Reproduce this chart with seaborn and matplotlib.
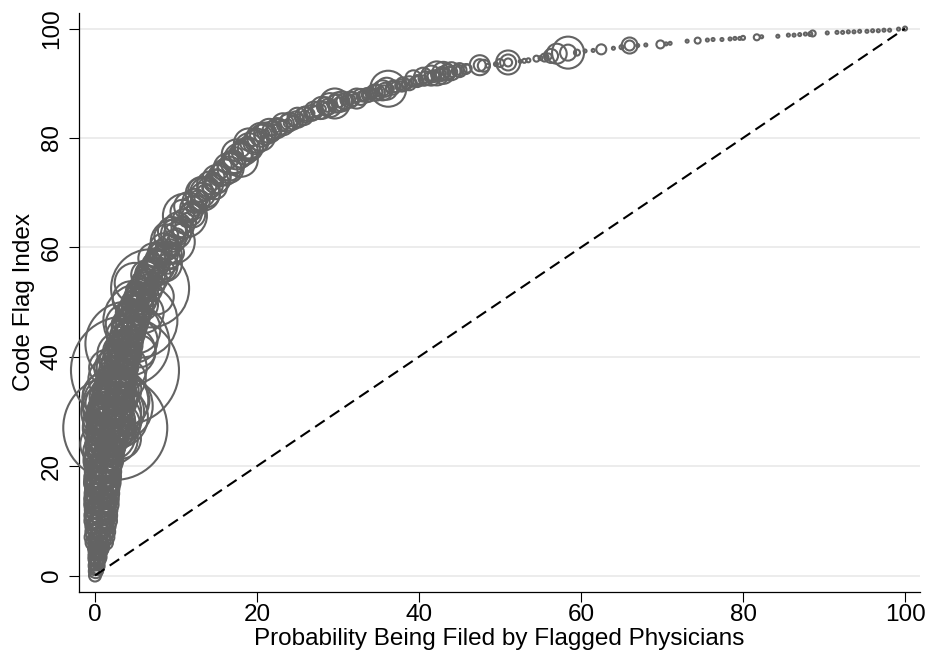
import matplotlib
matplotlib.use("Agg")
import matplotlib.pyplot as plt
import pandas as pd
import seaborn as sns

# ---- data: (probability filed by flagged physicians, code flag index, radius-like weight) ----
tip_x = [0.0, 0.1, 0.2, 0.1, 0.3, 0.2, 0.5, 0.3, 0.6, 0.4, 0.7, 0.5, 0.8, 0.6, 0.9, 0.5, 1.0, 0.7, 0.9, 0.6,
         1.1, 0.8, 1.0, 0.7, 1.2, 0.9, 1.4, 0.3, 1.5, 0.4]
tip_y = [0.0, 0.8, 1.8, 2.8, 3.5, 4.5, 5.2, 6.0, 6.8, 7.5, 8.3, 9.0, 9.8, 10.5, 11.3, 12.0, 12.8, 13.5, 14.3, 15.0,
         15.8, 16.5, 17.3, 18.0, 18.8, 19.5, 14.0, 14.0, 18.0, 17.0]
tip_r = [6, 7, 8, 7, 9, 8, 10, 9, 11, 12, 10, 13, 11, 14, 12, 13, 11, 15, 12, 14,
         13, 15, 12, 16, 14, 15, 10, 12, 12, 14]

core1_x = [0.2, 0.0, 0.3, 0.4, 0.1, 0.5, 0.2, 0.7, 0.4, 0.9, 0.3, 0.8, 0.5, 1.0, 0.4, 0.9, 0.6, 1.1, 0.5, 1.0,
           0.7, 1.2, 0.6, 1.1, 0.8, 1.3]
core1_y = [1.2, 2.0, 2.6, 3.2, 4.0, 4.8, 5.6, 6.4, 7.2, 8.0, 8.7, 9.4, 10.1, 10.8, 11.6, 12.4, 13.1, 13.8, 14.6,
           15.4, 16.1, 16.8, 17.6, 18.4, 19.1, 19.8]
core1_r = [6, 6, 7, 8, 7, 9, 8, 10, 9, 11, 10, 12, 10, 12, 11, 13, 11, 13, 12, 14, 12, 14, 13, 15, 13, 15]

body_x = [1.3, 0.8, 1.5, 1.0, 1.8, 0.9, 1.4, 2.0, 1.2, 1.7, 2.5, 1.0, 2.2, 1.5, 2.6, 1.9, 1.3, 2.5, 2.3, 1.8,
          2.8, 2.1, 2.6, 1.9, 2.5, 2.6, 2.4, 2.7, 1.6, 1.1, 2.0, 2.9]
body_y = [20.3, 21.0, 21.8, 22.5, 23.2, 24.0, 24.8, 25.5, 26.2, 27.0, 27.0, 27.8, 28.5, 29.2, 30.0, 30.8, 31.5, 32.0,
          32.5, 33.2, 33.8, 34.5, 35.3, 35.9, 28.0, 27.5, 28.5, 29.0, 24.0, 30.5, 33.0, 26.0]
body_r = [16, 18, 14, 20, 15, 22, 18, 24, 16, 26, 52, 20, 22, 18, 28, 16, 20, 33, 24, 17,
          21, 15, 19, 22, 20, 24, 27, 31, 12, 14, 12, 14]

ring_x = [3.5, 3.0, 3.8, 2.0, 2.8, 4.5, 5.0, 2.2, 3.2, 1.2, 1.5, 6.0, 7.5, 5.5, 8.5]
ring_y = [32.0, 34.0, 36.0, 30.0, 31.0, 41.0, 43.0, 25.0, 25.0, 33.0, 38.0, 48.0, 51.0, 41.0, 57.0]
ring_r = [26, 22, 20, 30, 35, 24, 22, 25, 20, 22, 18, 20, 18, 16, 18]

core2_x = [1.0, 1.6, 1.2, 1.9, 1.3, 2.1, 1.5, 2.3, 1.6, 2.4, 1.8, 2.6, 1.9, 2.8, 2.0, 2.9, 2.2, 3.0, 2.4, 3.1,
           2.5, 3.2]
core2_y = [20.6, 21.3, 22.0, 22.7, 23.4, 24.1, 24.8, 25.5, 26.2, 26.9, 27.6, 28.3, 29.0, 29.7, 30.4, 31.1, 31.8,
           32.5, 33.2, 33.9, 34.6, 35.3]
core2_r = [14, 12, 16, 13, 17, 14, 18, 15, 19, 15, 20, 16, 20, 15, 19, 16, 18, 15, 17, 14, 16, 15]

shoulder_x = [2.9, 3.7, 2.4, 3.2, 2.8, 3.6, 3.1, 4.0, 3.5, 3.9, 3.4, 4.3, 3.9, 5.6, 4.6, 4.3, 5.0, 4.7, 5.5, 6.8,
              5.3, 6.0, 6.5, 6.2, 7.0, 3.0, 3.8, 4.4, 5.1, 5.8, 3.3, 4.9]
shoulder_y = [36.5, 37.5, 37.8, 38.5, 39.3, 40.0, 41.0, 42.4, 42.0, 43.0, 44.0, 44.8, 45.8, 46.6, 47.0, 48.0, 49.0,
              50.0, 51.0, 52.5, 52.0, 53.0, 54.0, 55.0, 56.0, 40.5, 46.0, 50.5, 45.0, 49.5, 38.0, 53.5]
shoulder_r = [16, 54, 20, 14, 18, 13, 17, 42, 15, 12, 16, 13, 15, 37, 12, 14, 13, 11, 14, 39,
              12, 13, 11, 14, 12, 22, 20, 18, 24, 16, 25, 20]

core3_x = [2.6, 3.3, 2.9, 3.6, 3.1, 3.9, 3.4, 4.1, 3.7, 4.4, 3.9, 4.7, 4.2, 5.0, 4.6, 5.3, 4.9, 5.7, 5.2, 6.0,
           5.6, 6.4, 6.0, 6.8, 6.5, 7.2]
core3_y = [36.0, 36.8, 37.6, 38.4, 39.2, 40.0, 40.8, 41.6, 42.4, 43.2, 44.0, 44.8, 45.6, 46.4, 47.2, 48.0, 48.8,
           49.6, 50.4, 51.2, 52.0, 52.8, 53.6, 54.4, 55.2, 56.0]
core3_r = [14, 13, 15, 13, 14, 12, 14, 12, 13, 12, 13, 12, 13, 12, 13, 12, 13, 12, 12, 12, 13, 12, 12, 12, 12, 11]

# left / right edges of the dense lower band (y = 1 ... 59)
edge_y = [1, 2, 3, 4, 5, 6, 7, 8, 9, 10, 11, 12, 13, 14, 15, 16, 17, 18, 19, 20,
          21, 22, 23, 24, 25, 26, 27, 28, 29, 30, 31, 32, 33, 34, 35, 36, 37, 38, 39, 40,
          41, 42, 43, 44, 45, 46, 47, 48, 49, 50, 51, 52, 53, 54, 55, 56, 57, 58, 59]
edgeL_x = [-0.1, -0.1, -0.05, 0.0, 0.0, -0.3, -0.3, -0.2, -0.2, -0.2, -0.2, -0.15, -0.1, -0.1, -0.05, 0.0, 0.0,
           0.05, 0.1, 0.1, 0.2, 0.25, 0.35, 0.4, 0.5, 0.6, 0.7, 0.8, 0.9, 1.0, 1.1, 1.2, 1.35, 1.45, 1.6, 1.75,
           1.9, 2.05, 2.2, 2.4, 2.55, 2.7, 2.9, 3.1, 3.3, 3.5, 3.7, 3.95, 4.2, 4.5, 4.85, 5.2, 5.55, 5.9, 6.3,
           6.7, 7.1, 7.5, 7.95]
edgeR_x = [0.4, 0.45, 0.5, 0.6, 0.7, 1.35, 1.4, 1.5, 1.55, 1.6, 1.62, 1.65, 1.68, 1.7, 1.75, 1.78, 1.8, 1.85,
           1.87, 1.9, 2.0, 2.05, 2.15, 2.2, 2.3, 2.4, 2.5, 2.6, 2.7, 2.8, 2.9, 3.0, 3.15, 3.25, 3.4, 3.55, 3.7,
           3.85, 4.0, 4.2, 4.35, 4.5, 4.7, 4.9, 5.1, 5.3, 5.5, 5.75, 6.0, 6.3, 6.65, 7.0, 7.35, 7.7, 8.1, 8.5,
           8.9, 9.3, 9.75]
edge_r = [5, 5, 6, 6, 7, 7, 8, 8, 8, 9, 9, 9, 10, 10, 10, 10, 11, 11, 11, 11,
          12, 12, 12, 13, 13, 13, 14, 14, 14, 14, 14, 14, 13, 13, 13, 12, 12, 12, 11, 11,
          11, 11, 10, 10, 10, 10, 10, 10, 10, 10, 10, 10, 10, 10, 10, 10, 10, 10, 10]

knee_x = [7.6, 7.2, 8.0, 8.5, 9.6, 8.8, 9.5, 10.2, 11.1, 10.8, 11.5, 12.3, 13.3, 13.0, 13.6, 14.2, 15.0, 16.0,
          16.5, 17.0, 18.0, 17.5, 18.5, 19.0, 19.0, 20.0, 20.5, 21.0, 8.2, 10.0, 12.0, 14.8, 6.8, 9.0]
knee_y = [57.0, 58.0, 59.0, 60.0, 61.0, 62.0, 63.0, 64.0, 65.8, 66.5, 67.5, 68.5, 69.8, 70.5, 70.0, 71.5, 72.5,
          73.7, 74.5, 75.5, 76.0, 77.0, 77.5, 78.3, 79.0, 79.5, 80.2, 80.8, 56.5, 62.5, 66.0, 71.0, 55.0, 58.5]
knee_r = [13, 15, 12, 14, 22, 12, 14, 13, 22, 12, 14, 12, 17, 12, 15, 13, 14, 13,
          15, 12, 17, 15, 13, 14, 15, 12, 14, 11, 16, 15, 13, 12, 15, 14]

core4_x = [7.8, 8.9, 9.0, 9.8, 10.0, 10.8, 11.0, 11.8, 12.0, 12.8, 13.3, 14.0, 15.0, 15.4, 16.6, 17.2, 18.0, 19.0,
           19.8, 20.5]
core4_y = [57.5, 58.8, 60.0, 61.2, 62.4, 63.6, 64.8, 66.0, 67.2, 68.4, 69.6, 70.8, 72.0, 73.2, 74.4, 75.6, 76.8,
           78.0, 79.2, 80.4]
core4_r = [12, 11, 12, 11, 12, 11, 12, 11, 12, 11, 12, 11, 12, 11, 12, 11, 12, 11, 12, 11]

mid_x = [9.3, 9.7, 10.1, 10.5, 10.9, 11.3, 11.75, 12.2, 12.7, 13.15, 13.6, 14.1, 14.6, 15.1, 15.5, 16.0, 16.7,
         17.4, 18.1, 18.8, 19.5]
mid_y = [60, 61, 62, 63, 64, 65, 66, 67, 68, 69, 70, 71, 72, 73, 74, 75, 76, 77, 78, 79, 80]
mid_r = [8, 7, 8, 7, 8, 7, 8, 7, 8, 7, 8, 7, 8, 7, 8, 7, 8, 7, 8, 7, 8]

upper_x = [21.5, 22.5, 23.2, 24.0, 25.0, 26.0, 27.0, 28.0, 29.0, 29.6, 30.5, 31.5, 32.3, 33.5, 34.5, 35.5, 36.2,
           37.0, 38.0, 39.3, 40.5, 41.5, 42.2, 43.0, 44.0, 45.0, 22.0, 24.5, 28.5, 30.0, 36.0, 43.5]
upper_y = [81.3, 81.8, 82.5, 83.0, 83.7, 84.3, 85.0, 85.5, 86.0, 86.3, 86.7, 87.0, 87.2, 87.8, 88.3, 88.7, 89.0,
           89.4, 89.8, 90.9, 91.2, 91.4, 91.8, 91.9, 92.2, 92.4, 81.0, 82.8, 85.8, 86.5, 89.0, 92.0]
upper_r = [12, 10, 11, 9, 10, 8, 9, 11, 12, 15, 10, 8, 10, 7, 8, 10, 18,
           6, 7, 8, 9, 10, 12, 11, 9, 7, 8, 7, 9, 10, 11, 8]

core5_x = [21.8, 22.8, 23.8, 24.8, 25.8, 26.8, 27.8, 28.8, 29.8, 30.8, 31.8, 32.8, 33.8, 34.8, 35.8, 36.8, 37.8,
           38.8, 39.8, 40.8, 41.8, 42.8, 43.8, 44.8, 45.8]
core5_y = [81.4, 82.0, 82.7, 83.4, 84.0, 84.6, 85.1, 85.7, 86.3, 86.7, 87.1, 87.5, 87.9, 88.3, 88.8, 89.2, 89.6,
           90.0, 90.4, 90.9, 91.3, 91.7, 92.0, 92.3, 92.6]
core5_r = [9, 8, 9, 8, 9, 8, 9, 8, 9, 8, 7, 8, 7, 8, 7, 7, 6, 7, 6, 7, 6, 7, 6, 6, 5]

chain_x = [20.3, 21.0, 21.7, 22.4, 23.1, 23.8, 24.5, 25.2, 25.9, 26.6, 27.3, 28.0, 28.7, 29.4, 30.1, 30.8, 31.5,
           32.2, 32.9, 33.6, 34.3, 35.0, 35.7, 36.4, 37.1, 37.8, 38.5, 39.2, 39.9, 40.6, 41.3, 42.0, 42.7, 43.4,
           44.1, 44.8]
chain_y = [80.3, 80.8, 81.3, 81.8, 82.2, 82.7, 83.2, 83.6, 84.1, 84.5, 84.9, 85.3, 85.7, 86.1, 86.5, 86.8, 87.0,
           87.3, 87.6, 87.9, 88.1, 88.4, 88.7, 89.0, 89.3, 89.6, 89.8, 90.1, 90.4, 90.7, 91.1, 91.4, 91.7, 91.9,
           92.1, 92.3]
chain_r = [5, 4, 5, 4, 5, 4, 5, 4, 5, 4, 5, 4, 5, 4, 5, 4, 5, 4, 5, 4, 5, 4, 5, 4, 5, 4, 5, 4, 5, 4, 5, 4, 5, 4,
           5, 4]

tail_x = [46.0, 47.5, 47.5, 48.5, 49.5, 51.0, 51.0, 51.0, 53.5, 54.5, 55.5, 56.3, 57.0, 58.4, 58.4, 59.5, 60.5,
          61.5, 62.5, 64.0, 65.0, 66.0, 66.0, 67.0, 68.0, 69.8, 70.5, 71.0, 52.5, 53.0, 55.0, 56.0, 50.0, 48.0]
tail_y = [92.7, 93.3, 93.3, 93.2, 93.5, 93.8, 93.8, 93.8, 94.2, 94.5, 94.7, 95.0, 95.4, 95.6, 95.6, 95.6, 95.9,
          96.0, 96.2, 96.4, 96.6, 96.9, 96.9, 96.9, 97.0, 97.1, 97.2, 97.3, 94.0, 94.1, 94.6, 94.9, 93.7, 93.2]
tail_r = [4, 10, 6, 2, 2, 12, 8, 4, 2, 3, 4, 7, 10, 16, 8, 3, 1.5,
          1.5, 5, 1.5, 2, 8, 5, 1.5, 1.5, 4, 1.5, 1.5, 1.5, 2, 2, 3, 4, 6]

dots_x = [73.1, 74.4, 75.6, 76.3, 77.4, 78.4, 79.0, 79.6, 80.0, 81.7, 82.3, 84.3, 85.6, 86.3, 87.0, 87.7, 88.3,
          88.6, 90.4, 91.6, 92.3, 93.0, 93.7, 94.4, 95.3, 96.0, 96.7, 97.4, 98.1, 99.2, 100.0]
dots_y = [97.7, 97.8, 97.9, 98.0, 98.0, 98.1, 98.2, 98.2, 98.3, 98.4, 98.5, 98.6, 98.8, 98.8, 98.9, 99.0, 99.0,
          99.1, 99.2, 99.3, 99.3, 99.4, 99.4, 99.5, 99.5, 99.6, 99.6, 99.7, 99.7, 99.9, 100.0]
dots_r = [1.5, 3, 1.5, 1.5, 1.5, 1.5, 1.5, 1.5, 2, 3, 1.5, 1.5, 1.5, 1.5, 1.5, 1.5, 2,
          3, 1.5, 1.5, 1.5, 1.5, 1.5, 1.5, 1.5, 1.5, 1.5, 1.5, 1.5, 1.5, 2]

diag = [0, 100]
ticks = [0, 20, 40, 60, 80, 100]
tick_labels = ["0", "20", "40", "60", "80", "100"]

prob = (tip_x + core1_x + body_x + ring_x + core2_x + shoulder_x + core3_x + edgeL_x + edgeR_x + knee_x
        + core4_x + mid_x + upper_x + core5_x + chain_x + tail_x + dots_x)
index = (tip_y + core1_y + body_y + ring_y + core2_y + shoulder_y + core3_y + edge_y + edge_y + knee_y
         + core4_y + mid_y + upper_y + core5_y + chain_y + tail_y + dots_y)
radius = (tip_r + core1_r + body_r + ring_r + core2_r + shoulder_r + core3_r + edge_r + edge_r + knee_r
          + core4_r + mid_r + upper_r + core5_r + chain_r + tail_r + dots_r)
df = pd.DataFrame({"prob": prob, "index": index, "weight": [r * r for r in radius]})

GRAY = "#636363"

sns.set_style("ticks")
plt.rcParams["font.family"] = ["Liberation Sans", "DejaVu Sans"]

W, H = 929, 657
fig = plt.figure(figsize=(W / 100, H / 100), dpi=100)
ax = fig.add_axes([79.3 / W, (H - 591.7) / H, (920 - 79.3) / W, (591.7 - 12.7) / H])

wmax = df["weight"].max()
k = (2 * 72 / 100) ** 2
sns.scatterplot(data=df, x="prob", y="index", size="weight", sizes=(0, k * wmax),
                size_norm=(0, wmax), legend=False, marker="o", ax=ax)
pts = ax.collections[0]
pts.set_facecolor("none")
pts.set_edgecolor(GRAY)
pts.set_linewidth(1.5)
pts.set_clip_on(False)
pts.set_zorder(3)

ax.plot(diag, diag, color="black", lw=1.5, dashes=(5.5, 3), zorder=4, solid_capstyle="butt")

ax.set_xlim(-1.94, 101.85)
ax.set_ylim(-2.96, 102.9)
ax.set_xticks(ticks)
ax.set_xticklabels(tick_labels)
ax.set_yticks(ticks)
ax.set_yticklabels(tick_labels, rotation=90, va="center")
ax.yaxis.grid(True, color="#e9e9e9", lw=1.2, zorder=0)
ax.xaxis.grid(False)
ax.set_axisbelow(True)
ax.tick_params(axis="both", length=7, width=0.8, color="black", labelsize=17.5, labelcolor="black")
ax.tick_params(axis="x", pad=2)
ax.tick_params(axis="y", pad=5)
for s in ["left", "bottom"]:
    ax.spines[s].set_linewidth(0.9)
    ax.spines[s].set_color("black")
sns.despine(ax=ax)

ax.set_xlabel("Probability Being Filed by Flagged Physicians", fontsize=17.5, labelpad=1, color="black")
ax.set_ylabel("Code Flag Index", fontsize=17.5, labelpad=4, color="black")

fig.savefig("out.png", dpi=100)
